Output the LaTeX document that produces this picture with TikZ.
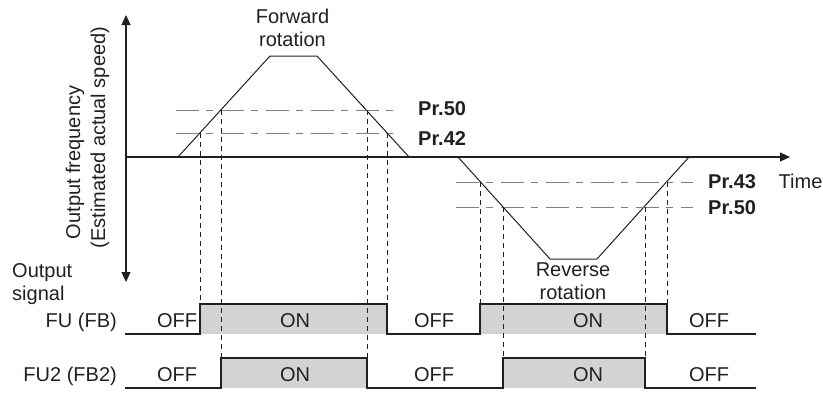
\documentclass[tikz,border=0pt]{standalone}
\usepackage{fontspec}
\setmainfont{Liberation Sans}
\usetikzlibrary{arrows.meta, positioning}
\definecolor{cInk}{HTML}{231F20}
\definecolor{cGuide}{HTML}{808080}
\definecolor{cOnFill}{HTML}{D1D3D4}
\tikzset{
  axisline/.style={draw=cInk, line width=1.1pt,
    >={Triangle[length=10pt, width=9pt]}},
  speedline/.style={draw=cInk, line width=1pt, line join=miter},
  levelline/.style={draw=cGuide, line width=1pt,
    dash pattern=on 23pt off 7pt on 7pt off 8pt},
  dropline/.style={draw=cInk, line width=0.7pt, dash pattern=on 5pt off 4pt},
  sigline/.style={draw=cInk, line width=1.1pt},
  onbox/.style={fill=cOnFill},
  lbl/.style={font=\fontsize{20}{23}\selectfont, text=cInk, inner sep=0pt},
  prlbl/.style={lbl, font=\fontsize{20}{23}\selectfont\bfseries, anchor=base west},
}
\begin{document}
\begin{tikzpicture}[x=1pt, y=-1pt]
  \useasboundingbox (0,0) rectangle (823,392);

  % Axes
  \coordinate (ytop) at (126,15);
  \coordinate (ybot) at (126,282);
  \coordinate (orig) at (126,157);
  \coordinate (tend) at (790,157);
  \draw[axisline, <->] (ybot) -- (ytop);
  \draw[axisline, ->] (orig) -- (tend);

  \node[lbl, rotate=90, anchor=base] (ylab1) at (80,162.5) {Output frequency};
  \node[lbl, rotate=90, anchor=base] (ylab2) at (105,137.5) {(Estimated actual speed)};
  \node[lbl, anchor=base west] (time) at (778.5,188) {Time};

  % Speed profile
  \draw[speedline] (178,157) -- (270,56) -- (317,56) -- (409,157);
  \draw[speedline] (458,157) -- (550,259) -- (597,259) -- (689,157);
  \node[lbl, align=center, anchor=north] (fwd) at (292.5,8.5) {Forward\\rotation};
  \node[lbl, align=center, anchor=north] (rev) at (573,263) {Reverse\\rotation};

  % Detection levels
  \draw[levelline] (176,110) -- (398,110);
  \draw[levelline] (176,133) -- (398,133);
  \draw[levelline] (456,182) -- (693,182);
  \draw[levelline] (456,207) -- (693,207);
  \node[prlbl] (pr50a) at (418,115) {Pr.50};
  \node[prlbl] (pr42) at (418,145) {Pr.42};
  \node[prlbl] (pr43) at (708,188) {Pr.43};
  \node[prlbl] (pr50b) at (708,214) {Pr.50};

  % ON periods
  \fill[onbox] (200,304) rectangle (387,334);
  \fill[onbox] (480,304) rectangle (667,334);
  \fill[onbox] (221,358) rectangle (367,388);
  \fill[onbox] (503,358) rectangle (645,388);

  % Drop lines
  \draw[dropline] (200,133) -- (200,304);
  \draw[dropline] (221,110) -- (221,358);
  \draw[dropline] (367,110) -- (367,358);
  \draw[dropline] (387,133) -- (387,304);
  \draw[dropline] (480,182) -- (480,304);
  \draw[dropline] (503,207) -- (503,358);
  \draw[dropline] (645,207) -- (645,358);
  \draw[dropline] (667,182) -- (667,304);

  % Output signals
  \draw[sigline] (125,334) -- (200,334) -- (200,304) -- (387,304) -- (387,334)
    -- (480,334) -- (480,304) -- (667,304) -- (667,334) -- (756,334);
  \draw[sigline] (125,388) -- (221,388) -- (221,358) -- (367,358) -- (367,388)
    -- (503,388) -- (503,358) -- (645,358) -- (645,388) -- (756,388);

  \node[lbl, align=left, anchor=north west] (outsig) at (12,263.5) {Output\\signal};
  \node[lbl, anchor=base east] (fu) at (117,327) {FU (FB)};
  \node[lbl, anchor=base east] (fu2) at (117,381) {FU2 (FB2)};

  \node[lbl, anchor=base] (fuoff1) at (177,327) {OFF};
  \node[lbl, anchor=base] (fuon1) at (295,327) {ON};
  \node[lbl, anchor=base] (fuoff2) at (434,327) {OFF};
  \node[lbl, anchor=base] (fuon2) at (588,327) {ON};
  \node[lbl, anchor=base] (fuoff3) at (709,327) {OFF};
  \node[lbl, anchor=base] (fu2off1) at (177,381) {OFF};
  \node[lbl, anchor=base] (fu2on1) at (295,381) {ON};
  \node[lbl, anchor=base] (fu2off2) at (434,381) {OFF};
  \node[lbl, anchor=base] (fu2on2) at (588,381) {ON};
  \node[lbl, anchor=base] (fu2off3) at (709,381) {OFF};
\end{tikzpicture}
\end{document}
